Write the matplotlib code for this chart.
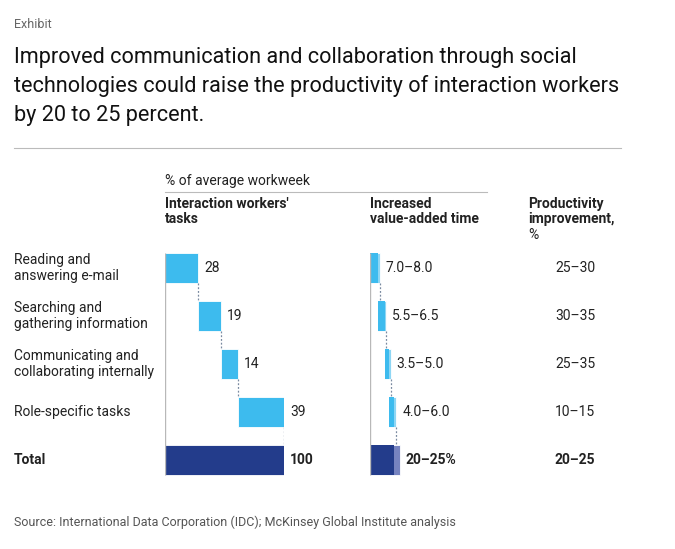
import matplotlib
matplotlib.use("Agg")
import matplotlib.pyplot as plt
from matplotlib.transforms import blended_transform_factory

plt.rcParams['font.family'] = ['Roboto', 'DejaVu Sans']

# data
tasks = ["Reading and\nanswering e-mail", "Searching and\ngathering information",
         "Communicating and\ncollaborating internally", "Role-specific tasks"]
share = [28, 19, 14, 39]
total_share = 100
vat_low = [7.0, 5.5, 3.5, 4.0]
vat_high = [8.0, 6.5, 5.0, 6.0]
vat_labels = ["7.0–8.0", "5.5–6.5", "3.5–5.0", "4.0–6.0"]
total_low, total_high = 20, 25
total_vat_label = "20–25%"
prod = ["25–30", "30–35", "25–35", "10–15"]
total_prod = "20–25"

LIGHT = "#3dbbee"
PALE = "#8ed6f4"
NAVY = "#233c8b"
NAVY_PALE = "#7683c0"
TXT = "#222222"

W, H = 675, 549
fig = plt.figure(figsize=(W / 100, H / 100), dpi=100)


def px(x, y):
    return x / W, 1 - y / H


def axes_at(x0, x1, y0, y1):
    return fig.add_axes([x0 / W, 1 - y1 / H, (x1 - x0) / W, (y1 - y0) / H])


bh = 0.625
rows = list(range(len(tasks)))
tot_row = len(tasks)
dots = (0, (1.5, 1.5))

# left waterfall
ax1 = axes_at(165, 284, 244, 484)
starts = [sum(share[:i]) for i in rows]
ax1.barh(rows, share, left=starts, height=bh, color=LIGHT, edgecolor="white", linewidth=0.6)
ax1.barh(tot_row, total_share, height=bh, color=NAVY, edgecolor="white", linewidth=0.6)
for i in rows:
    end = starts[i] + share[i]
    ax1.vlines(end, i + bh / 2, i + 1 - bh / 2, colors="#7a8aa0", linestyles=dots, linewidth=0.9)
    ax1.text(end + 5, i, str(share[i]), va="center", ha="left", fontsize=10, color=TXT)
ax1.text(total_share + 5, tot_row, str(total_share), va="center", ha="left", fontsize=10,
         color=TXT, fontweight="bold")

# right waterfall (same scale)
ax2 = axes_at(370, 489, 244, 484)
cum = 0
for i in rows:
    ax2.barh(i, vat_high[i], left=cum, height=bh, color=PALE, edgecolor="white", linewidth=0.6)
    ax2.barh(i, vat_low[i], left=cum, height=bh, color=LIGHT, edgecolor="none")
    end = cum + vat_high[i]
    ax2.vlines(end, i + bh / 2, i + 1 - bh / 2, colors="#7a8aa0", linestyles=dots, linewidth=0.9)
    ax2.text(end + 5, i, vat_labels[i], va="center", ha="left", fontsize=10, color=TXT)
    cum += vat_low[i]
ax2.barh(tot_row, total_high, height=bh, color=NAVY_PALE, edgecolor="white", linewidth=0.6)
ax2.barh(tot_row, total_low, height=bh, color=NAVY, edgecolor="none")
ax2.text(total_high + 5, tot_row, total_vat_label, va="center", ha="left", fontsize=10,
         color=TXT, fontweight="bold")

for ax in (ax1, ax2):
    ax.set_xlim(0, 100)
    ax.set_ylim(tot_row + 0.5, -0.5)
    ax.vlines(0, -bh / 2, tot_row + bh / 2, colors="#b8b8b8", linewidth=1)
    ax.axis("off")

# row labels and productivity column share the row positions of ax1
blend = blended_transform_factory(fig.transFigure, ax1.transData)
for i in rows:
    ax1.text(14 / W, i, tasks[i], transform=blend, va="center", ha="left", fontsize=10,
             color=TXT, linespacing=1.15)
    ax1.text(575 / W, i, prod[i], transform=blend, va="center", ha="center", fontsize=10,
             color=TXT)
ax1.text(14 / W, tot_row, "Total", transform=blend, va="center", ha="left", fontsize=10,
         color=TXT, fontweight="bold")
ax1.text(575 / W, tot_row, total_prod, transform=blend, va="center", ha="center",
         fontsize=10, color=TXT, fontweight="bold")

# header / titles
fig.text(*px(14, 24), "Exhibit", fontsize=9, color="#666666", va="center", ha="left")
fig.text(*px(14, 47), "Improved communication and collaboration through social\n"
         "technologies could raise the productivity of interaction workers\n"
         "by 20 to 25 percent.", fontsize=15.6, color="#111111", va="top", ha="left",
         linespacing=1.44)
fig.add_artist(plt.Line2D([14 / W, 621 / W], [1 - 148 / H] * 2, color="#bbbbbb", linewidth=0.8))

fig.text(*px(165, 181), "% of average workweek", fontsize=10, color=TXT, va="center", ha="left")
fig.add_artist(plt.Line2D([165 / W, 487 / W], [1 - 192 / H] * 2, color="#bbbbbb", linewidth=0.8))
fig.text(*px(165, 197), "Interaction workers'\ntasks", fontsize=10, color=TXT,
         fontweight="bold", va="top", ha="left", linespacing=1.1)
fig.text(*px(370, 197), "Increased\nvalue-added time", fontsize=10, color=TXT,
         fontweight="bold", va="top", ha="left", linespacing=1.1)
fig.text(*px(528, 197), "Productivity\nimprovement,", fontsize=10, color=TXT,
         fontweight="bold", va="top", ha="left", linespacing=1.1)
fig.text(*px(528, 235), "%", fontsize=10, color=TXT, va="center", ha="left")

fig.text(*px(14, 522), "Source: International Data Corporation (IDC); McKinsey Global Institute analysis",
         fontsize=9, color="#555555", va="center", ha="left")

fig.savefig("out.png", dpi=100, facecolor="white")
